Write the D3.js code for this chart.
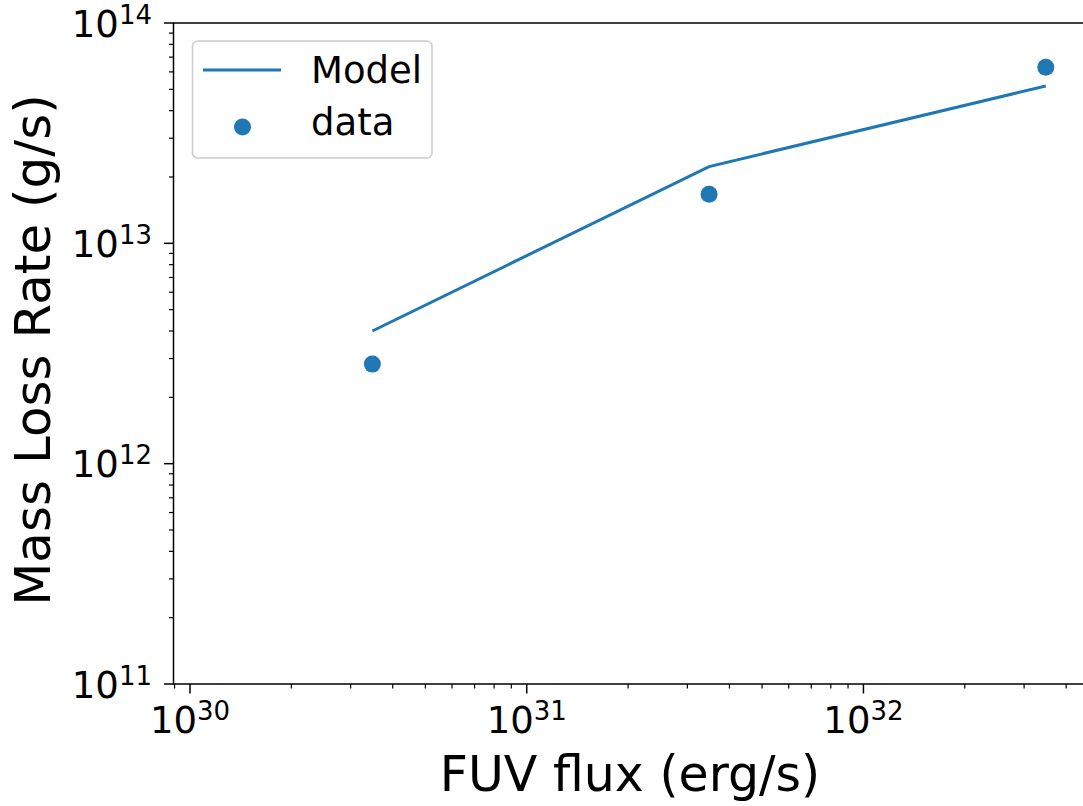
<!DOCTYPE html>
<html>
  <head>
    <meta charset="utf-8">
    <title>mass loss rate</title>
    <style>
      body {
        margin: 0;
        background-color: white;
      }
      svg text {
        font-family: "DejaVu Sans", sans-serif;
        fill: black;
      }
    </style>
  </head>
  <body>
    <div id="chart"></div>

    <script src="https://d3js.org/d3.v7.min.js"></script>
    <script>
    // values
    var fuvFlux = [3.48e30, 3.48e31, 3.48e32];
    var modelRate = [4.0e12, 2.23e13, 5.18e13];
    var dataRate = [2.83e12, 1.67e13, 6.3e13];
    var xDecades = [30, 31, 32];
    var yDecades = [11, 12, 13, 14];
    var seriesNames = ["Model", "data"];

    var width = 1083;
    var height = 806;
    var blue = "#1f77b4";

    // plot box (window.top is read only, so no bare "top" here)
    var box = {left: 173.5, right: 1085, top: 23, bottom: 684};

    var svg = d3.select("#chart").append("svg")
      .attr("width", width)
      .attr("height", height);

    var x = d3.scaleLog()
      .domain([Math.pow(10, 29.951), Math.pow(10, 32.658)])
      .range([box.left, box.right]);

    var y = d3.scaleLog()
      .domain([1e11, 1e14])
      .range([box.bottom, box.top]);

    // minor tick values: 2..9 times each decade, kept inside the domain
    function minorTicks(scale, decades) {
      var out = [];
      var dom = scale.domain();
      decades.concat([decades[0] - 1]).forEach(function(k) {
        for (var m = 2; m <= 9; m++) {
          var v = m * Math.pow(10, k);
          if (v >= dom[0] && v <= dom[1]) out.push(v);
        }
      });
      return out;
    }

    var xMajor = xDecades.map(function(k) { return Math.pow(10, k); });
    var yMajor = yDecades.map(function(k) { return Math.pow(10, k); });

    // ticks
    var g = svg.append("g");
    g.selectAll(".xminor").data(minorTicks(x, xDecades)).enter().append("line")
      .attr("x1", function(d) { return x(d); })
      .attr("x2", function(d) { return x(d); })
      .attr("y1", box.bottom).attr("y2", box.bottom + 4.5)
      .attr("stroke", "black").attr("stroke-width", 1.2);
    g.selectAll(".xmajor").data(xMajor).enter().append("line")
      .attr("x1", function(d) { return x(d); })
      .attr("x2", function(d) { return x(d); })
      .attr("y1", box.bottom).attr("y2", box.bottom + 9.5)
      .attr("stroke", "black").attr("stroke-width", 1.5);
    g.selectAll(".yminor").data(minorTicks(y, yDecades)).enter().append("line")
      .attr("y1", function(d) { return y(d); })
      .attr("y2", function(d) { return y(d); })
      .attr("x1", box.left).attr("x2", box.left - 4.5)
      .attr("stroke", "black").attr("stroke-width", 1.2);
    g.selectAll(".ymajor").data(yMajor).enter().append("line")
      .attr("y1", function(d) { return y(d); })
      .attr("y2", function(d) { return y(d); })
      .attr("x1", box.left).attr("x2", box.left - 9.5)
      .attr("stroke", "black").attr("stroke-width", 1.5);

    // tick labels as 10 with superscript
    function powLabel(sel, k) {
      sel.append("tspan").attr("font-size", 37).text("10");
      sel.append("tspan").attr("font-size", 26).attr("dy", -13).text(k);
    }

    xDecades.forEach(function(k) {
      var t = svg.append("text")
        .attr("x", x(Math.pow(10, k)))
        .attr("y", 733)
        .attr("text-anchor", "middle");
      powLabel(t, k);
    });
    yDecades.forEach(function(k) {
      var t = svg.append("text")
        .attr("x", 152)
        .attr("y", y(Math.pow(10, k)) + 13.5)
        .attr("text-anchor", "end");
      powLabel(t, k);
    });

    // spines
    svg.append("rect")
      .attr("x", box.left).attr("y", box.top)
      .attr("width", box.right - box.left).attr("height", box.bottom - box.top)
      .attr("fill", "none").attr("stroke", "black").attr("stroke-width", 1.5);

    // model line + data points
    var pts = fuvFlux.map(function(f, i) { return [f, modelRate[i], dataRate[i]]; });
    var line = d3.line()
      .x(function(d) { return x(d[0]); })
      .y(function(d) { return y(d[1]); });
    svg.append("path")
      .datum(pts)
      .attr("d", line)
      .attr("fill", "none")
      .attr("stroke", blue)
      .attr("stroke-width", 3);

    svg.selectAll(".dot").data(pts).enter().append("circle")
      .attr("cx", function(d) { return x(d[0]); })
      .attr("cy", function(d) { return y(d[2]); })
      .attr("r", 8.5)
      .attr("fill", blue);

    // axis titles
    svg.append("text")
      .attr("x", 630)
      .attr("y", 791)
      .attr("text-anchor", "middle")
      .attr("font-size", 49)
      .text("FUV flux (erg/s)");
    svg.append("text")
      .attr("transform", "translate(50, 350) rotate(-90)")
      .attr("text-anchor", "middle")
      .attr("font-size", 50)
      .text("Mass Loss Rate (g/s)");

    // legend
    var leg = svg.append("g");
    leg.append("rect")
      .attr("x", 192.5).attr("y", 41)
      .attr("width", 239.5).attr("height", 117)
      .attr("rx", 5)
      .attr("fill", "white").attr("fill-opacity", 0.8)
      .attr("stroke", "#cccccc").attr("stroke-width", 1.5);
    leg.append("line")
      .attr("x1", 203).attr("x2", 281)
      .attr("y1", 70).attr("y2", 70)
      .attr("stroke", blue).attr("stroke-width", 3);
    leg.append("circle")
      .attr("cx", 242.5).attr("cy", 127).attr("r", 8.5)
      .attr("fill", blue);
    leg.selectAll(".lt").data(seriesNames).enter().append("text")
      .attr("x", 311)
      .attr("y", function(d, i) { return 83 + i * 52; })
      .attr("font-size", 37)
      .text(function(d) { return d; });
    </script>
  </body>
</html>
